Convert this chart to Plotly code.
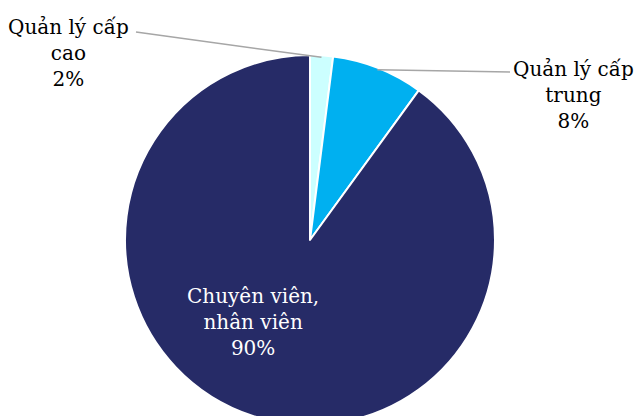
import math
import plotly.graph_objects as go

labels = ["Quản lý cấp cao", "Quản lý cấp trung", "Chuyên viên, nhân viên"]
label_text = ["Quản lý cấp<br>cao", "Quản lý cấp<br>trung", "Chuyên viên,<br>nhân viên"]
values = [2, 8, 90]
colors = ["#CCFFFF", "#00B0F0", "#262B67"]

W, H = 637, 426
cx, cy, R = 310, 240, 185  # pixel centre/radius (from top)

fig = go.Figure(go.Pie(
    labels=labels, values=values, sort=False, direction="clockwise", rotation=0,
    marker=dict(colors=colors, line=dict(color="white", width=2)),
    textinfo="none", hoverinfo="label+percent", showlegend=False,
    domain=dict(x=[(cx - R) / W, (cx + R) / W], y=[(H - cy - R) / H, (H - cy + R) / H]),
))

def px(x, y):
    return x / W, 1 - y / H

total = sum(values)
cum = 0
FONT = "DejaVu Serif"
label_pos = [(68, 53, 136, 32), (573, 95, 510, 72), (253, 322, None, None)]
for i, v in enumerate(values):
    mid = (cum + v / 2) / total * 2 * math.pi
    cum += v
    pct = f"{round(v / total * 100)}%"
    lx, ly, ex, ey = label_pos[i]
    col = "white" if i == 2 else "black"
    fig.add_annotation(x=px(lx, ly)[0], y=px(lx, ly)[1], xref="paper", yref="paper",
                       text=f"{label_text[i]}<br>{pct}", showarrow=False,
                       font=dict(family=FONT, size=20, color=col),
                       align="center", xanchor="center", yanchor="middle")
    if ex is not None:
        sx = cx + (R - 2) * math.sin(mid)
        sy = cy - (R - 2) * math.cos(mid)
        x0, y0 = px(ex, ey)
        x1, y1 = px(sx, sy)
        fig.add_shape(type="line", xref="paper", yref="paper", x0=x0, y0=y0, x1=x1, y1=y1,
                      line=dict(color="#A6A6A6", width=1.5))

fig.update_layout(width=W, height=H, margin=dict(l=0, r=0, t=0, b=0),
                  paper_bgcolor="white", plot_bgcolor="white")

fig.write_html("out.html", config={"displayModeBar": False},
               post_script="document.body.style.margin='0';document.body.style.overflow='hidden';document.documentElement.style.overflow='hidden';")
